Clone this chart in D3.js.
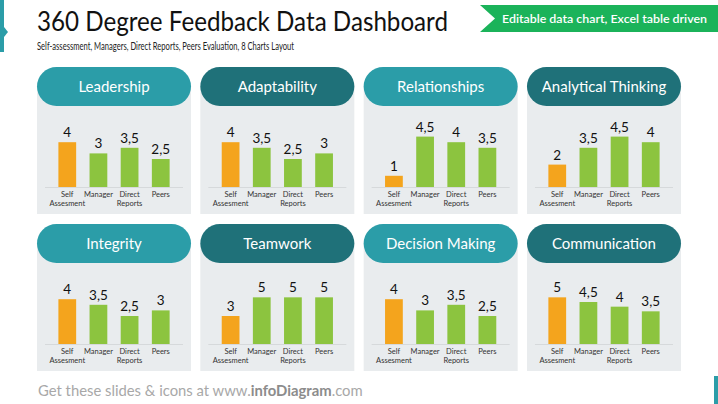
<!DOCTYPE html>
<html>
<head>
<meta charset="utf-8">
<script src="https://cdn.jsdelivr.net/npm/d3@7"></script>
<style>
  body { margin: 0; background: #fff; }
  svg { display: block; font-family: Lato, "Open Sans", sans-serif; }
</style>
</head>
<body>
<div class="chart"></div>
<script>
// chart data
const charts = ["Leadership", "Adaptability", "Relationships", "Analytical Thinking",
  "Integrity", "Teamwork", "Decision Making", "Communication"];
const categories = ["Self Assesment", "Manager", "Direct Reports", "Peers"];
const selfScores = [4, 4, 1, 2, 4, 3, 4, 5];
const managerScores = [3, 3.5, 4.5, 3.5, 3.5, 5, 3, 4.5];
const directScores = [3.5, 2.5, 4, 4.5, 2.5, 5, 3.5, 4];
const peerScores = [2.5, 3, 3.5, 4, 3, 5, 2.5, 3.5];

const width = 718, height = 404;
const colors = { self: "#f4a41d", other: "#8cc43f", light: "#2b9da8", dark: "#1f7179" };

const svg = d3.select(".chart").append("svg")
  .attr("width", width)
  .attr("height", height);

// left accent bar
svg.append("rect").attr("x", 0).attr("y", 0).attr("width", 4).attr("height", 52).attr("fill", colors.light);
svg.append("path").attr("d", "M4,27 L8,32 L4,37 Z").attr("fill", colors.light);
// bottom right accent
svg.append("rect").attr("x", 714).attr("y", 376).attr("width", 4).attr("height", 28).attr("fill", colors.light);

// fit a text to a width by scaling its font size
function fitWidth(sel, w) {
  const len = sel.node().getComputedTextLength();
  const fs = +sel.attr("font-size");
  sel.attr("font-size", fs * w / len);
}

// header
svg.append("text")
  .attr("x", 37).attr("y", 31)
  .attr("font-size", 26).attr("fill", "#111")
  .attr("textLength", 411).attr("lengthAdjust", "spacingAndGlyphs")
  .text("360 Degree Feedback Data Dashboard");

svg.append("text")
  .attr("x", 37).attr("y", 50)
  .attr("font-size", 10.5).attr("fill", "#222")
  .attr("textLength", 257).attr("lengthAdjust", "spacingAndGlyphs")
  .text("Self-assessment, Managers, Direct Reports, Peers Evaluation, 8 Charts Layout");

svg.append("path")
  .attr("d", "M480,5 L718,5 L718,32 L480,32 L495,18.5 Z")
  .attr("fill", "#1bb35a");
svg.append("text")
  .attr("x", 502).attr("y", 22.5)
  .attr("font-size", 12).attr("font-weight", 600).attr("fill", "#fff")
  .attr("textLength", 205).attr("lengthAdjust", "spacingAndGlyphs")
  .text("Editable data chart, Excel table driven");

// footer
const foot = svg.append("text")
  .attr("x", 38).attr("y", 396)
  .attr("font-size", 16).attr("fill", "#a8a8a8");
foot.append("tspan").text("Get these slides & icons at www.");
foot.append("tspan").attr("font-weight", 700).attr("fill", "#8c8c8c").text("infoDiagram");
foot.append("tspan").text(".com");
fitWidth(foot, 325);

// panel layout
const panelX = d3.scaleBand().domain(d3.range(4)).range([37, 681]).paddingInner(0.057);
const panelW = panelX.bandwidth();
const rowY = [67, 224];
const pillH = 39, plotTop = 64, plotH = 56;

const x = d3.scaleBand().domain(categories).range([8, panelW - 8]).padding(0.43);

charts.forEach((name, i) => {
  const values = [selfScores[i], managerScores[i], directScores[i], peerScores[i]];
  const rows = categories.map((c, k) => ({ cat: c, v: values[k] }));
  const y = d3.scaleLinear()
    .domain([0, Math.floor(d3.max(values)) + 1])
    .range([plotTop + plotH, plotTop]);

  const g = svg.append("g")
    .attr("transform", `translate(${panelX(i % 4)}, ${rowY[Math.floor(i / 4)]})`);

  g.append("rect")
    .attr("x", 0).attr("y", pillH / 2)
    .attr("width", panelW).attr("height", 147 - pillH / 2)
    .attr("fill", "#e9ecee");

  const dark = (i % 2 === 1);
  g.append("rect")
    .attr("x", 0).attr("y", 0)
    .attr("width", panelW).attr("height", pillH)
    .attr("rx", pillH / 2)
    .attr("fill", dark ? colors.dark : colors.light);

  g.append("text")
    .attr("x", panelW / 2).attr("y", pillH / 2 + 5.5)
    .attr("text-anchor", "middle")
    .attr("font-size", 15).attr("fill", "#fff")
    .text(name);

  // baseline
  g.append("line")
    .attr("x1", 8).attr("x2", panelW - 8)
    .attr("y1", y(0) + 0.5).attr("y2", y(0) + 0.5)
    .attr("stroke", "#d6d9db").attr("stroke-width", 1);

  g.selectAll(".bar").data(rows).enter().append("rect")
    .attr("class", "bar")
    .attr("x", d => x(d.cat))
    .attr("width", x.bandwidth())
    .attr("y", d => y(d.v))
    .attr("height", d => y(0) - y(d.v))
    .attr("fill", (d, k) => k === 0 ? colors.self : colors.other);

  g.selectAll(".val").data(rows).enter().append("text")
    .attr("class", "val")
    .attr("x", d => x(d.cat) + x.bandwidth() / 2)
    .attr("y", d => y(d.v) - 5)
    .attr("text-anchor", "middle")
    .attr("font-size", 13.5).attr("fill", "#111")
    .text(d => String(d.v).replace(".", ","));

  const lab = g.selectAll(".cat").data(rows).enter().append("text")
    .attr("class", "cat")
    .attr("x", d => x(d.cat) + x.bandwidth() / 2)
    .attr("y", y(0) + 10)
    .attr("text-anchor", "middle")
    .attr("font-size", 7.5).attr("fill", "#333");
  lab.each(function (d) {
    const words = d.cat.split(" ");
    const t = d3.select(this);
    words.forEach((w, j) => {
      t.append("tspan")
        .attr("x", x(d.cat) + x.bandwidth() / 2)
        .attr("dy", j === 0 ? 0 : 8.5)
        .text(w);
    });
  });
});
</script>
</body>
</html>
